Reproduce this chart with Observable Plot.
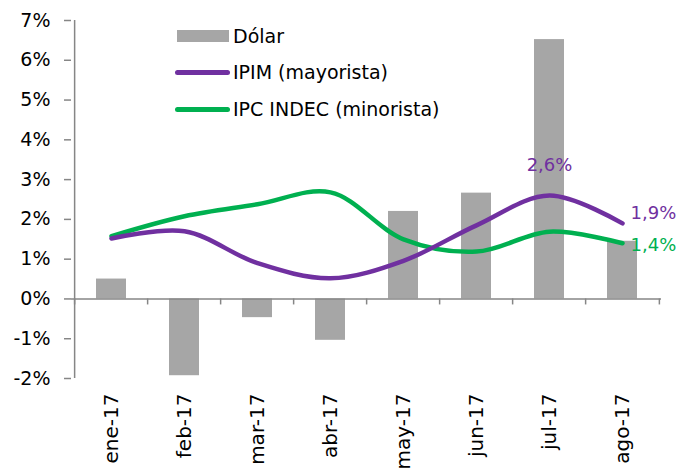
<!DOCTYPE html>
<html>
<head>
<meta charset="utf-8">
<script src="https://cdn.jsdelivr.net/npm/d3@7"></script>
<script src="https://cdn.jsdelivr.net/npm/@observablehq/plot@0.6"></script>
<style>
  body { margin: 0; background: #fff; font-family: "DejaVu Sans", sans-serif; }
  #wrap { position: relative; width: 680px; height: 468px; }
  .leg { position: absolute; font-size: 19px; color: #000; line-height: 22px; white-space: nowrap; }
  .sw { position: absolute; }
</style>
</head>
<body>
<div id="wrap"></div>
<script>
const months = ["ene-17","feb-17","mar-17","abr-17","may-17","jun-17","jul-17","ago-17"];
const dolar  = [0.5, -1.93, -0.47, -1.04, 2.2, 2.66, 6.52, 1.45];
const ipim   = [1.52, 1.7, 0.9, 0.52, 0.96, 1.85, 2.6, 1.9];
const ipc    = [1.58, 2.08, 2.38, 2.68, 1.5, 1.19, 1.69, 1.4];
const yTicks = [-2,-1,0,1,2,3,4,5,6,7];
const seriesNames = ["Dólar", "IPIM (mayorista)", "IPC INDEC (minorista)"];
const colors = {gray: "#a6a6a6", purple: "#7030a0", green: "#00b050", axis: "#868686"};

const data = months.map((m, i) => ({month: m, dolar: dolar[i], ipim: ipim[i], ipc: ipc[i]}));
const W = 680, H = 468, ML = 71, MR = 19, MT = 20, MB = 90;
const step = (W - ML - MR) / months.length;
const fmt = v => v.toFixed(1).replace(".", ",") + "%";
const last = data[data.length - 1];
const jul = data[6];

const chart = Plot.plot({
  width: W, height: H,
  marginLeft: ML, marginRight: MR, marginTop: MT, marginBottom: MB,
  style: {fontFamily: "DejaVu Sans, sans-serif", fontSize: "18px", color: "#000", background: "#fff"},
  x: {domain: months, paddingInner: 0.59, paddingOuter: 0.295, label: null},
  y: {domain: [-2, 7], label: null},
  marks: [
    Plot.barY(data, {x: "month", y: "dolar", fill: colors.gray}),
    Plot.ruleY([0], {stroke: colors.axis, strokeWidth: 1.5}),
    Plot.ruleX(months, {x: d => d, y1: 0, y2: 0, insetBottom: -6, dx: -step / 2, stroke: colors.axis, strokeWidth: 1.5}),
    Plot.ruleX([months[months.length - 1]], {x: d => d, y1: 0, y2: 0, insetBottom: -6, dx: step / 2, stroke: colors.axis, strokeWidth: 1.5}),
    Plot.ruleX([months[0]], {x: d => d, y1: -2, y2: 7, dx: -step / 2, stroke: colors.axis, strokeWidth: 1.5}),
    Plot.axisY({ticks: yTicks, tickSize: 7, tickPadding: 14, tickFormat: d => d + "%", stroke: colors.axis, strokeWidth: 1.5, fill: "#000", fontSize: 19}),
    Plot.axisX({tickSize: 0, tickPadding: 15, tickRotate: -90, fill: "#000", fontSize: 20}),
    Plot.line(data, {x: "month", y: "ipc", stroke: colors.green, strokeWidth: 4.5, curve: "catmull-rom", strokeLinecap: "round"}),
    Plot.line(data, {x: "month", y: "ipim", stroke: colors.purple, strokeWidth: 4.5, curve: "catmull-rom", strokeLinecap: "round"}),
    Plot.text([jul], {x: "month", y: "ipim", text: d => fmt(d.ipim), fill: colors.purple, dy: -30, fontSize: 18}),
    Plot.text([last], {x: "month", y: "ipim", text: d => fmt(d.ipim), fill: colors.purple, dx: 8, dy: -10, textAnchor: "start", fontSize: 18}),
    Plot.text([last], {x: "month", y: "ipc", text: d => fmt(d.ipc), fill: colors.green, dx: 8, dy: 2, textAnchor: "start", fontSize: 18})
  ]
});

const wrap = document.getElementById("wrap");
wrap.appendChild(chart);

const legendItems = [
  {name: seriesNames[0], type: "bar", color: colors.gray, top: 36},
  {name: seriesNames[1], type: "line", color: colors.purple, top: 72},
  {name: seriesNames[2], type: "line", color: colors.green, top: 109}
];
legendItems.forEach(it => {
  const sw = document.createElement("div");
  sw.className = "sw";
  if (it.type === "bar") {
    Object.assign(sw.style, {left: "177px", top: (it.top - 6) + "px", width: "52px", height: "12px", background: it.color});
  } else {
    Object.assign(sw.style, {left: "175px", top: (it.top - 2) + "px", width: "55px", height: "4.5px", background: it.color, borderRadius: "3px"});
  }
  wrap.appendChild(sw);
  const t = document.createElement("div");
  t.className = "leg";
  t.textContent = it.name;
  Object.assign(t.style, {left: "233px", top: (it.top - 11) + "px"});
  wrap.appendChild(t);
});
</script>
</body>
</html>
